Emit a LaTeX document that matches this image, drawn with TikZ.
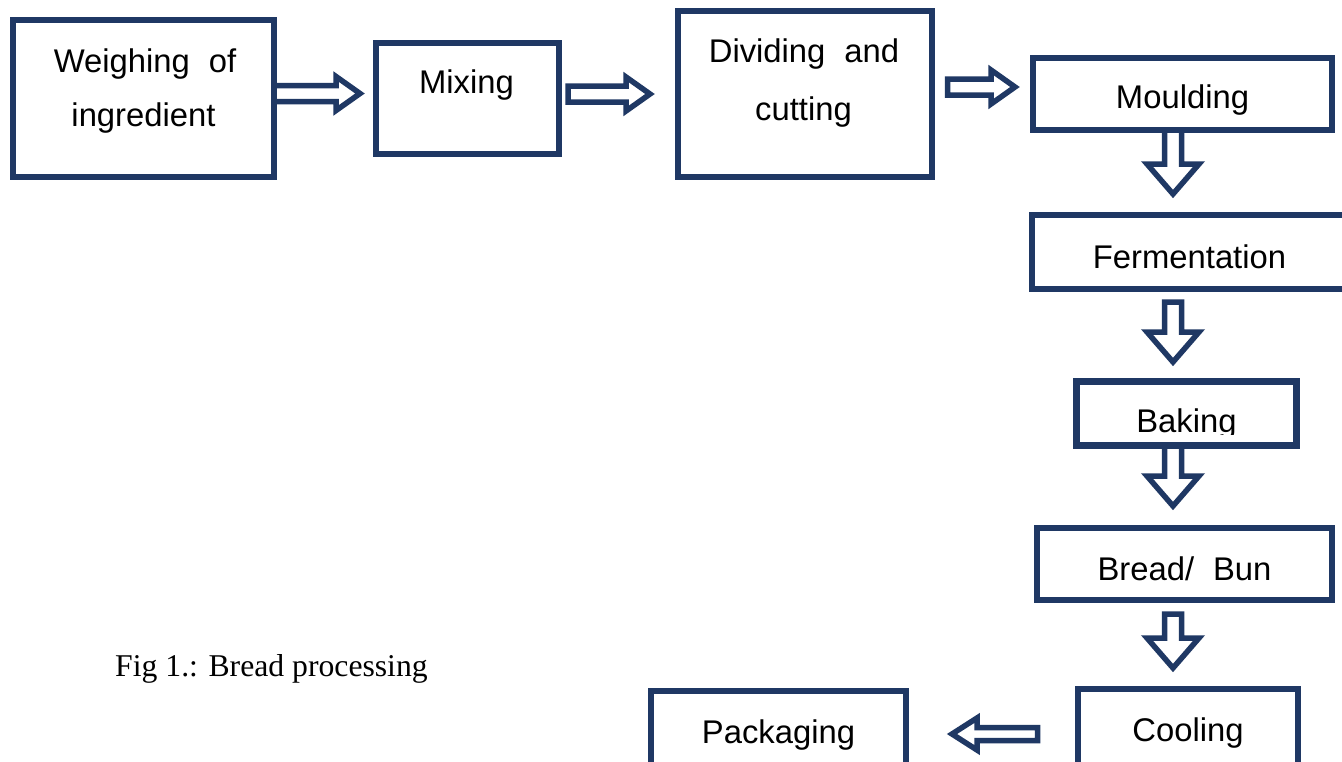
\documentclass[tikz,border=0pt]{standalone}
\usepackage{fontspec}
\setmainfont{Liberation Serif}
\newfontfamily\boxfont{Liberation Sans}
\usetikzlibrary{calc}
\definecolor{navy}{RGB}{31,56,100}
\tikzset{
  box/.style={draw=navy, line width=6pt, inner sep=0pt, outer sep=0pt},
  lbl/.style={font=\boxfont\fontsize{32.8}{38}\selectfont, inner sep=0pt, anchor=base, text=black},
  blk/.style={draw=navy, line width=5.5pt, line join=miter, miter limit=10},
  rarr/.style={blk, to path={($(\tikztostart)+(0,-8)$) -- ($(\tikztotarget)+(-24,-8)$) -- ($(\tikztotarget)+(-24,-17)$) -- (\tikztotarget) -- ($(\tikztotarget)+(-24,17)$) -- ($(\tikztotarget)+(-24,8)$) -- ($(\tikztostart)+(0,8)$) -- cycle}},
  darr/.style={blk, to path={($(\tikztostart)+(-8.5,0)$) -- ($(\tikztotarget)+(-8.5,-30)$) -- ($(\tikztotarget)+(-26,-30)$) -- (\tikztotarget) -- ($(\tikztotarget)+(26,-30)$) -- ($(\tikztotarget)+(8.5,-30)$) -- ($(\tikztostart)+(8.5,0)$) -- cycle}},
  larr/.style={blk, to path={($(\tikztostart)+(0,-6.5)$) -- ($(\tikztotarget)+(25,-6.5)$) -- ($(\tikztotarget)+(25,-16)$) -- (\tikztotarget) -- ($(\tikztotarget)+(25,16)$) -- ($(\tikztotarget)+(25,6.5)$) -- ($(\tikztostart)+(0,6.5)$) -- cycle}},
}
\begin{document}
\begin{tikzpicture}[x=1pt, y=-1pt]
\useasboundingbox (0,0) rectangle (1342,761);
\fill[white] (0,0) rectangle (1342,761);
\clip (0,0) rectangle (1342,761);

% boxes
\node[box, minimum width=261pt, minimum height=157pt] (W) at (143.5,98.5) {};
\node[box, minimum width=183pt, minimum height=111pt] (M) at (467.5,98.5) {};
\node[box, minimum width=254pt, minimum height=166pt] (D) at (805,94) {};
\node[box, minimum width=299pt, minimum height=72pt] (Mo) at (1182.5,94) {};
\node[box, minimum width=315pt, minimum height=74pt] (F) at (1189.5,252) {};
\node[box, line width=7pt, minimum width=220pt, minimum height=64pt] (B) at (1186.5,413.5) {};
\node[box, minimum width=295pt, minimum height=72pt] (BB) at (1184.5,564) {};
\node[box, minimum width=220pt, minimum height=108pt] (C) at (1188,743) {};
\node[box, minimum width=255pt, minimum height=106pt] (P) at (778.5,744) {};

% labels
\node[lbl] (tW1) at ($(W.north)+(1.5,52.3)$) {Weighing\hspace{0.3em} of};
\node[lbl] (tW2) at ($(W.north)+(0,106.7)$) {ingredient};
\node[lbl] (tM) at ($(M.north)+(-1,50.3)$) {Mixing};
\node[lbl] (tD1) at ($(D.north)+(-1,51.3)$) {Dividing\hspace{0.3em} and};
\node[lbl] (tD2) at ($(D.north)+(-1.5,109)$) {cutting};
\node[lbl] (tMo) at ($(Mo.north)+(0,50)$) {Moulding};
\node[lbl] (tF) at ($(F.north)+(0,53)$) {Fermentation};
\begin{scope}
  \clip (1000,370) rectangle (1320,434.5);
  \node[lbl] (tB) at ($(B.north)+(0,50.5)$) {Baking};
\end{scope}
\node[lbl] (tBB) at ($(BB.north)+(0,52)$) {Bread/\hspace{0.3em} Bun};
\node[lbl] (tC) at ($(C.north)+(0,52)$) {Cooling};
\node[lbl] (tP) at ($(P.north)+(0,52)$) {Packaging};

\node[font=\fontsize{31.7}{37}\selectfont, inner sep=0pt, anchor=base west] (cap) at (115,676) {Fig 1.: Bread processing};

% arrow end points
\coordinate (a1s) at ($(W.east)+(0,-5)$);
\coordinate (a1e) at ($(M.west)+(-16,-5)$);
\coordinate (a2s) at ($(M.east)+(9,-4.5)$);
\coordinate (a2e) at ($(D.west)+(-28,0)$);
\coordinate (a3s) at ($(D.east)+(15.5,-7)$);
\coordinate (a3e) at ($(Mo.west)+(-18,-7)$);
\coordinate (ax) at (1173,0);
\coordinate (d1s) at (ax |- Mo.south);
\coordinate (d1e) at ($(ax |- F.north)+(0,-21)$);
\coordinate (d2s) at ($(ax |- F.south)+(0,13)$);
\coordinate (d2e) at ($(ax |- B.north)+(0,-19.5)$);
\coordinate (d3s) at (ax |- B.south);
\coordinate (d3e) at ($(ax |- BB.north)+(0,-22)$);
\coordinate (d4s) at ($(ax |- BB.south)+(0,14)$);
\coordinate (d4e) at ($(ax |- C.north)+(0,-21)$);
\coordinate (l1s) at ($(C.west)+(-40.5,-9)$);
\coordinate (l1e) at ($(P.east)+(46,-10)$);

% arrows
\draw[rarr] (a1s) to (a1e);
\draw[rarr] (a2s) to (a2e);
\draw[rarr] (a3s) to (a3e);
\draw[darr] (d1s) to (d1e);
\draw[darr] (d2s) to (d2e);
\draw[darr] (d3s) to (d3e);
\draw[darr] (d4s) to (d4e);
\draw[larr] (l1s) to (l1e);

% redraw box edges over arrow ends
\draw[navy, line width=6pt] (W.north east) -- (W.south east);
\draw[navy, line width=6pt] (Mo.south west) -- (Mo.south east);
\draw[navy, line width=7pt] (B.south west) -- (B.south east);
\end{tikzpicture}
\end{document}
